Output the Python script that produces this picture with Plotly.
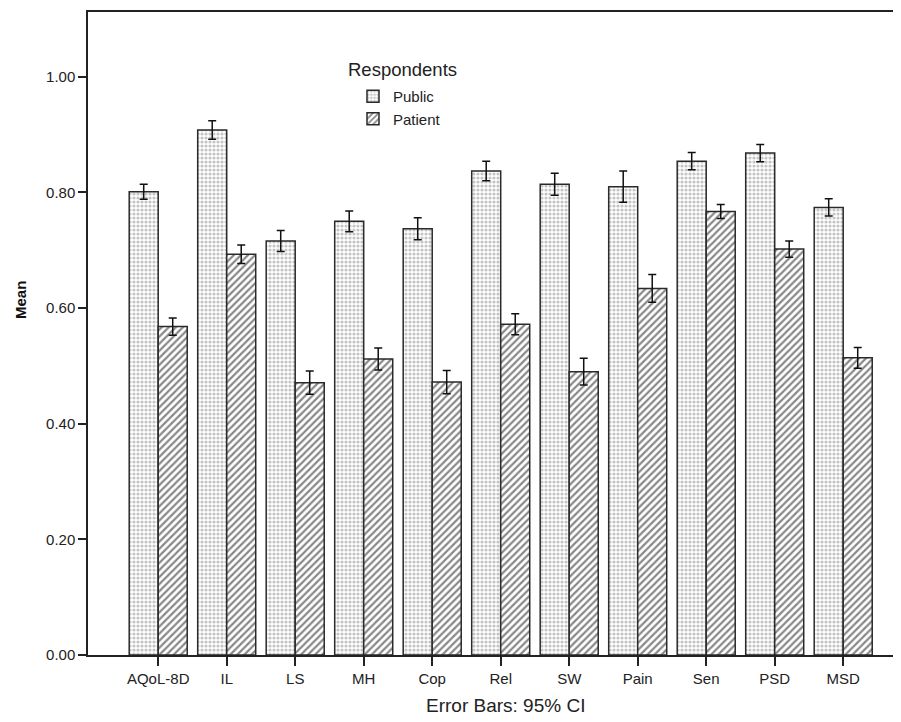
import plotly.graph_objects as go

categories = ["AQoL-8D", "IL", "LS", "MH", "Cop", "Rel", "SW", "Pain", "Sen", "PSD", "MSD"]
public_mean = [0.801, 0.908, 0.716, 0.750, 0.737, 0.837, 0.814, 0.810, 0.854, 0.868, 0.774]
public_ci = [0.013, 0.016, 0.018, 0.018, 0.019, 0.017, 0.019, 0.027, 0.015, 0.015, 0.015]
patient_mean = [0.568, 0.693, 0.471, 0.512, 0.472, 0.572, 0.490, 0.634, 0.767, 0.702, 0.514]
patient_ci = [0.015, 0.016, 0.020, 0.019, 0.020, 0.018, 0.023, 0.024, 0.012, 0.014, 0.018]
y_ticks = [0.0, 0.2, 0.4, 0.6, 0.8, 1.0]

xpos = list(range(len(categories)))
font = "Liberation Sans, Arial, sans-serif"

# plot area in window pixels (page has an 8px body margin)
PL, PT, PB, PW = 88, 12, 655, 813
PH = PB - PT

def px(x):
    return (x - PL) / PW

def py(y):
    return (PB - y) / PH

fig = go.Figure()
fig.add_trace(go.Bar(
    x=xpos, y=public_mean, name="Public",
    marker=dict(color="white",
                line=dict(color="#2a2a2a", width=1.5),
                pattern=dict(shape=".", size=4, solidity=0.5,
                             fgcolor="#8a8a8a", bgcolor="white")),
    error_y=dict(type="data", array=public_ci, color="#111", thickness=1.5, width=4),
))
fig.add_trace(go.Bar(
    x=xpos, y=patient_mean, name="Patient",
    marker=dict(color="white",
                line=dict(color="#2a2a2a", width=1.5),
                pattern=dict(shape="/", size=5, solidity=0.45,
                             fgcolor="#111", bgcolor="white")),
    error_y=dict(type="data", array=patient_ci, color="#111", thickness=1.5, width=4),
))

fig.update_layout(
    width=893, height=714,
    margin=dict(l=80, r=0, t=4, b=67),
    plot_bgcolor="white", paper_bgcolor="white",
    barmode="group", bargap=0.153, bargroupgap=0,
    font=dict(family=font, size=15, color="#222"),
    showlegend=True,
    legend=dict(x=px(353), y=py(80), xanchor="left", yanchor="top",
                bgcolor="rgba(0,0,0,0)", font=dict(size=15, color="#222"),
                tracegroupgap=0, itemwidth=30),
    xaxis=dict(range=[-1.025, -1.025 + PW / 68.5], tickmode="array", tickvals=xpos,
               ticktext=categories, showgrid=False, zeroline=False,
               showline=True, linecolor="#222", linewidth=1.5, mirror=True,
               ticks="outside", ticklen=9, tickcolor="#222", tickwidth=1.5,
               tickfont=dict(size=15, color="#222")),
    yaxis=dict(range=[0, 1.112], tickmode="array", tickvals=y_ticks,
               tickformat=".2f", showgrid=False, zeroline=False,
               showline=True, linecolor="#222", linewidth=1.5,
               ticks="outside", ticklen=8, tickcolor="#222", tickwidth=1.5,
               tickfont=dict(size=15, color="#222")),
)

fig.add_annotation(text="Respondents", xref="paper", yref="paper",
                   x=px(346), y=py(70), xanchor="left",
                   yanchor="middle", showarrow=False,
                   font=dict(size=18.5, color="#222", family=font))
fig.add_annotation(text="<b>Mean</b>", xref="paper", yref="paper",
                   x=px(20), y=py(300), textangle=-90,
                   xanchor="center", yanchor="middle", showarrow=False,
                   font=dict(size=15, color="#111", family=font))
fig.add_annotation(text="Error Bars: 95% CI", xref="paper", yref="paper",
                   x=px(505), y=py(705),
                   xanchor="center", yanchor="middle", showarrow=False,
                   font=dict(size=19, color="#222", family=font))

fig.write_html(
    "out.html",
    post_script="document.documentElement.style.overflow='hidden';"
                "document.body.style.overflow='hidden';",
)
